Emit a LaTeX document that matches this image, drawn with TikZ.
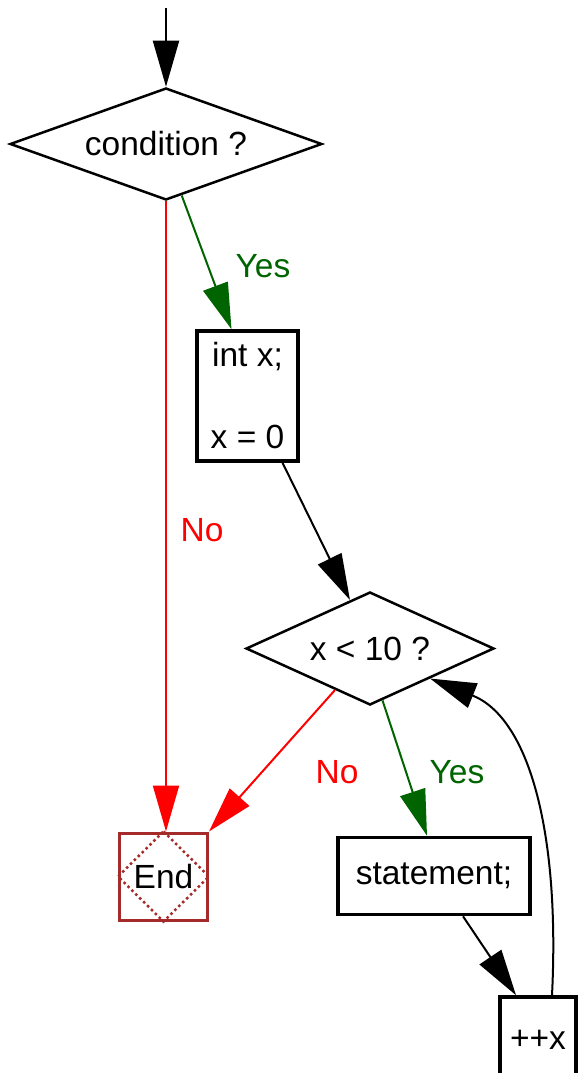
\documentclass[tikz,border=0pt]{standalone}
\usepackage{fontspec}
\setmainfont{Liberation Sans}
\usetikzlibrary{shapes.geometric,arrows.meta,calc}
\definecolor{ygreen}{RGB}{0,100,0}
\definecolor{endbrown}{RGB}{165,42,42}
\begin{document}
\begin{tikzpicture}[x=1pt,y=-1pt,
  every node/.style={font=\fontsize{33.5}{38}\selectfont},
  dec/.style={diamond,draw,line width=2.5pt,inner sep=0pt,aspect=2.8},
  stepbox/.style={rectangle,draw,line width=3.5pt,inner sep=0pt},
  arr/.style={line width=2pt,-{Triangle[length=46pt,width=26pt]}},
  lab/.style={inner sep=0pt}]
\useasboundingbox (0,0) rectangle (578,1073);
\clip (0,0) rectangle (578,1073);
\fill[white] (0,0) rectangle (578,1073);

\coordinate (start) at (166,8);
\node[dec,minimum width=312pt,minimum height=112pt] (d1) at (166,144) {condition ?};
\node[stepbox,minimum width=101pt,minimum height=130pt,align=center] (b1) at (247.5,396) {int x;\\[44pt]x = 0};
\node[dec,minimum width=248pt,minimum height=113pt] (d2) at (370,648.5) {x < 10 ?};
\node[rectangle,draw=endbrown,line width=3pt,minimum width=88pt,minimum height=87pt,inner sep=0pt] (end) at (163.5,876.5) {End};
\draw[endbrown,dash pattern=on 2.5pt off 3pt,line width=2.5pt] (end.north) -- (end.east) -- (end.south) -- (end.west) -- cycle;
\node[stepbox,minimum width=192pt,minimum height=77pt] (st) at (434,876) {statement;};
\node[stepbox,minimum width=76pt,minimum height=86pt] (inc) at (538,1040) {++x};

\draw[arr] (start) -- (d1.north);
\draw[arr,red] (d1.south) -- (d1.south |- end.north);
\draw[arr,ygreen] ($(d1.south)!0.1!(d1.east)$) -- ($(b1.north)+(-16,0)$);
\draw[arr] ($(b1.south)+(35,0)$) -- ($(d2.north)!0.16!(d2.west)$);
\draw[arr,red] ($(d2.south)!0.28!(d2.west)$) -- (end.north east);
\draw[arr,ygreen] ($(d2.south)!0.1!(d2.east)$) -- ($(st.north)+(-7,0)$);
\draw[arr] ($(st.south)+(29,0)$) -- ($(inc.north)+(-22,0)$);
\draw[arr] ($(inc.north)+(14,0)$) .. controls +(8,-160) and +(100,40) .. ($(d2.east)!0.52!(d2.south)$);

\node[lab,text=ygreen] (l1) at (263,266) {Yes};
\node[lab,text=red] (l2) at (202,530) {No};
\node[lab,text=red] (l3) at (337,772) {No};
\node[lab,text=ygreen] (l4) at (457,772) {Yes};
\end{tikzpicture}
\end{document}
